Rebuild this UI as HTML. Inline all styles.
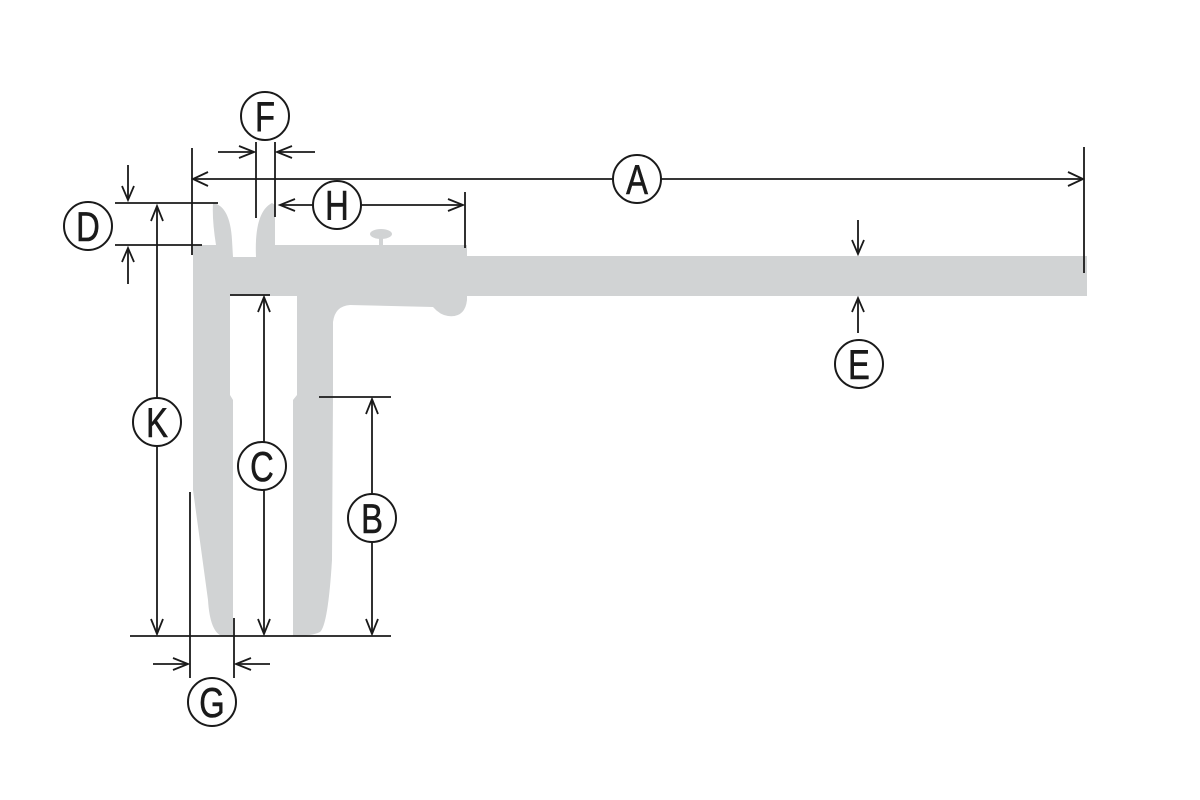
<!DOCTYPE html>
<html><head><meta charset="utf-8"><style>html,body{margin:0;padding:0;background:#fff}svg{display:block}</style></head>
<body>
<svg width="1200" height="800" viewBox="0 0 1200 800" xmlns="http://www.w3.org/2000/svg">
<g fill="#d1d3d4">
<rect x="460" y="256" width="627" height="40"/>
<path d="M193,245 L216,245 Q212,220 213,203 Q230,206 232,240 L233,257 L256,257 Q254,212 272,203 L275,205 L275,245 L467,245 L467,300 Q465,318 448,316 Q440,315 433,307 L350,305 Q335,306 333,322 L333,395 L332,560 Q328,625 320,632 Q312,636 293,636 L293,400 L297,395 L297,296 L230,296 L230,395 L233,400 L233,636 L222,636 Q210,632 208,600 L193,490 Z"/>
<ellipse cx="381" cy="234" rx="11" ry="5"/>
<rect x="379" y="236" width="4" height="10"/>
</g>
<g stroke="#1a1a1a" stroke-width="1.8" fill="none">
<line x1="192" y1="148" x2="192" y2="255"/>
<line x1="1084" y1="147" x2="1084" y2="273"/>
<line x1="193" y1="179" x2="613" y2="179"/>
<line x1="661" y1="179" x2="1083" y2="179"/>
<polyline points="208,172 193,179 208,186"/>
<polyline points="1068,172 1083,179 1068,186"/>
<line x1="256" y1="142" x2="256" y2="218"/>
<line x1="275" y1="142" x2="275" y2="217"/>
<line x1="218" y1="152" x2="254" y2="152"/>
<polyline points="239,146 254,152 239,158"/>
<line x1="315" y1="152" x2="277" y2="152"/>
<polyline points="292,146 277,152 292,158"/>
<line x1="280" y1="205" x2="313" y2="205"/>
<line x1="361" y1="205" x2="463" y2="205"/>
<polyline points="295,199 280,205 295,211"/>
<polyline points="448,199 463,205 448,211"/>
<line x1="465" y1="192" x2="465" y2="248"/>
<line x1="115" y1="203" x2="218" y2="203"/>
<line x1="115" y1="245" x2="202" y2="245"/>
<line x1="128" y1="165" x2="128" y2="200"/>
<polyline points="122,186 128,200 134,186"/>
<line x1="128" y1="284" x2="128" y2="248"/>
<polyline points="122,262 128,248 134,262"/>
<line x1="157" y1="206" x2="157" y2="398"/>
<line x1="157" y1="446" x2="157" y2="634"/>
<polyline points="151,221 157,206 163,221"/>
<polyline points="151,619 157,634 163,619"/>
<line x1="230" y1="295" x2="270" y2="295"/>
<line x1="264" y1="297" x2="264" y2="442"/>
<line x1="264" y1="490" x2="264" y2="634"/>
<polyline points="258,312 264,297 270,312"/>
<polyline points="258,619 264,634 270,619"/>
<line x1="319" y1="397" x2="391" y2="397"/>
<line x1="372" y1="399" x2="372" y2="494"/>
<line x1="372" y1="542" x2="372" y2="634"/>
<polyline points="366,414 372,399 378,414"/>
<polyline points="366,619 372,634 378,619"/>
<line x1="130" y1="636" x2="391" y2="636"/>
<line x1="190" y1="492" x2="190" y2="678"/>
<line x1="234" y1="618" x2="234" y2="678"/>
<line x1="153" y1="664" x2="188" y2="664"/>
<polyline points="173,658 188,664 173,670"/>
<line x1="270" y1="664" x2="236" y2="664"/>
<polyline points="251,658 236,664 251,670"/>
<line x1="858" y1="220" x2="858" y2="254"/>
<polyline points="852,240 858,254 864,240"/>
<line x1="858" y1="333" x2="858" y2="298"/>
<polyline points="852,312 858,298 864,312"/>
</g>
<g stroke="#1a1a1a" stroke-width="2" fill="none">
<circle cx="637" cy="179" r="24"/>
<circle cx="265" cy="116" r="24"/>
<circle cx="337" cy="205" r="24"/>
<circle cx="88" cy="226" r="24"/>
<circle cx="157" cy="422" r="24"/>
<circle cx="262" cy="466" r="24"/>
<circle cx="372" cy="518" r="24"/>
<circle cx="212" cy="702" r="24"/>
<circle cx="859" cy="364" r="24"/>
</g>
<g font-family="Liberation Sans, sans-serif" font-size="42" fill="#1a1a1a" stroke="#1a1a1a" stroke-width="0.6" text-anchor="middle">
<text x="637" y="194" transform="translate(637 0) scale(0.78 1) translate(-637 0)">A</text>
<text x="265" y="131" transform="translate(265 0) scale(0.78 1) translate(-265 0)">F</text>
<text x="337" y="220" transform="translate(337 0) scale(0.78 1) translate(-337 0)">H</text>
<text x="88" y="241" transform="translate(88 0) scale(0.78 1) translate(-88 0)">D</text>
<text x="157" y="437" transform="translate(157 0) scale(0.78 1) translate(-157 0)">K</text>
<text x="262" y="481" transform="translate(262 0) scale(0.78 1) translate(-262 0)">C</text>
<text x="372" y="533" transform="translate(372 0) scale(0.78 1) translate(-372 0)">B</text>
<text x="212" y="717" transform="translate(212 0) scale(0.78 1) translate(-212 0)">G</text>
<text x="859" y="379" transform="translate(859 0) scale(0.78 1) translate(-859 0)">E</text>
</g>
</svg>
</body></html>
